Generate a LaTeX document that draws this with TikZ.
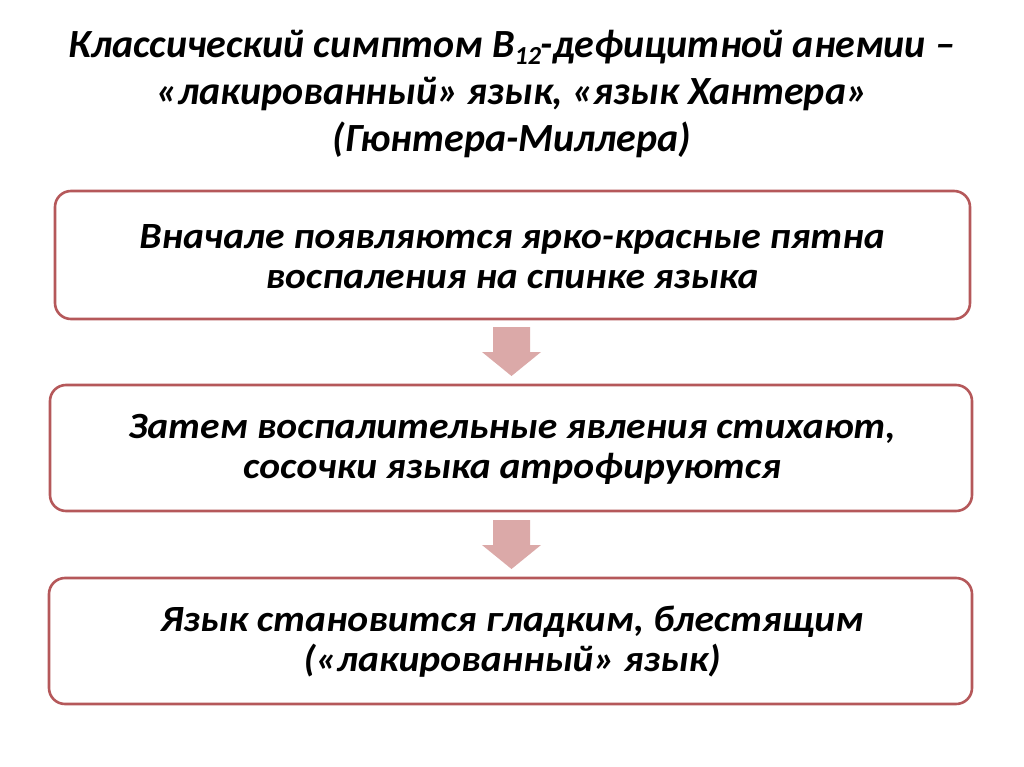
\documentclass[tikz,border=0pt]{standalone}
\usepackage{fontspec}
\setmainfont{Carlito}
\newfontfamily\titlefont{Carlito}
\newfontfamily\boxfont{Carlito}
\definecolor{boxred}{HTML}{B5585A}
\definecolor{arrowpink}{HTML}{DBA9A8}
\tikzset{
  x=1pt, y=-1pt,
  stepbox/.style={draw=boxred, line width=2.6pt, rounded corners=16pt, fill=white},
  boxtext/.style={align=center, transform shape, font=\boxfont\bfseries\itshape\fontsize{37}{40}\selectfont},
  titletext/.style={align=center, font=\titlefont\bfseries\itshape\fontsize{40}{47}\selectfont},
  downarrow/.style={fill=arrowpink, draw=none}
}
\begin{document}
\begin{tikzpicture}
\useasboundingbox (0,0) rectangle (1024,767);
\node[titletext] (title) at (512,94) {Классический симптом B\raisebox{-0.35ex}{\fontsize{26}{26}\selectfont 12}-дефицитной анемии –\\«лакированный» язык, «язык Хантера»\\(Гюнтера-Миллера)};
\draw[stepbox] (55,191) rectangle (970,319);
\draw[stepbox] (50,385) rectangle (972,511);
\draw[stepbox] (49,578) rectangle (972,704);
\begin{scope}[shift={(512,257)}, xscale=1.07]
\node[boxtext] (t1) at (0,0) {Вначале появляются ярко-красные пятна\\воспаления на спинке языка};
\end{scope}
\begin{scope}[shift={(512,449)}, xscale=1.07]
\node[boxtext] (t2) at (0,0) {Затем воспалительные явления стихают,\\сосочки языка атрофируются};
\end{scope}
\begin{scope}[shift={(512,642)}, xscale=1.07]
\node[boxtext] (t3) at (0,0) {Язык становится гладким, блестящим\\(«лакированный» язык)};
\end{scope}
\fill[downarrow] (493,327) -- (530,327) -- (530,352) -- (541,352) -- (511.5,376) -- (482,352) -- (493,352) -- cycle;
\fill[downarrow] (493,520) -- (530,520) -- (530,545) -- (541,545) -- (511.5,569) -- (482,545) -- (493,545) -- cycle;
\end{tikzpicture}
\end{document}
